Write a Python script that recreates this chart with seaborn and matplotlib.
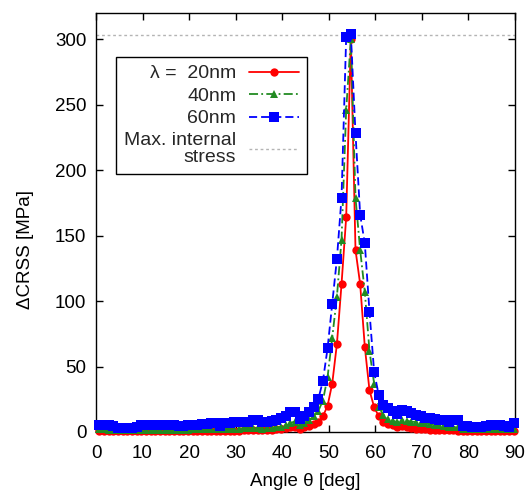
import numpy as np
import matplotlib
matplotlib.use("Agg")
import matplotlib.pyplot as plt
import seaborn as sns

# angles of the sampled points (1 deg grid, offset so that 54.74 deg is on it)
angle = np.round(np.arange(0.74, 90, 1.0), 2)

# delta CRSS [MPa]
crss_20nm = [0.8, 0.8, 0.7, 0.6, 0.5, 0.5, 0.5, 0.6, 0.7, 0.8,
             0.8, 0.8, 0.8, 0.8, 0.7, 0.7, 0.8, 0.8, 0.8, 0.8,
             0.9, 0.9, 0.9, 1.0, 1.0, 1.0, 0.8, 0.9, 1.0, 1.0,
             1.1, 1.2, 1.3, 1.5, 1.6, 1.2, 1.3, 1.5, 2.0, 2.5,
             3.0, 3.5, 4.0, 2.5, 3.5, 4.5, 6.0, 8.0, 12, 20,
             37, 67, 113, 164, 300, 139, 113, 65, 32, 19,
             12, 8.0, 6.0, 5.0, 4.0, 4.5, 3.5, 3.0, 2.5, 2.2,
             2.0, 1.8, 1.6, 1.5, 1.3, 1.2, 1.2, 1.0, 0.6, 0.6,
             0.6, 0.6, 0.6, 0.6, 0.7, 0.7, 0.6, 0.6, 0.6, 0.8]

crss_40nm = [2.0, 2.0, 1.8, 1.6, 1.5, 1.5, 1.5, 1.5, 1.7, 1.8,
             1.8, 1.8, 1.8, 1.8, 1.8, 1.8, 1.8, 1.8, 1.8, 1.9,
             2.0, 2.0, 2.0, 2.2, 2.3, 2.3, 2.0, 2.2, 2.3, 2.5,
             2.6, 2.7, 2.8, 3.0, 3.2, 2.4, 2.8, 3.0, 3.5, 4.0,
             5.0, 7.0, 8.0, 5.5, 7.0, 9.0, 12, 16, 24, 42,
             72, 103, 147, 246, 300, 179, 139, 107, 62, 37,
             19, 13, 10, 8.5, 7.5, 9.0, 8.5, 8.0, 7.5, 7.0,
             6.5, 6.0, 5.5, 5.0, 4.5, 4.0, 4.0, 3.5, 2.5, 2.2,
             2.0, 2.0, 2.0, 2.0, 2.2, 2.2, 2.0, 2.0, 2.0, 2.5]

crss_60nm = [5.0, 5.0, 5.0, 4.5, 3.3, 3.3, 3.3, 3.3, 4.0, 5.0,
             5.0, 5.0, 5.0, 5.0, 5.0, 5.0, 5.0, 4.8, 4.8, 5.0,
             5.6, 5.6, 5.8, 6.0, 7.0, 7.0, 4.8, 6.5, 6.5, 7.5,
             7.8, 8.0, 8.0, 9.5, 9.5, 7.5, 8.0, 8.5, 9.5, 10.5,
             12, 15, 15, 10, 12.5, 15, 19, 25, 39, 64,
             98, 132, 179, 302, 304, 228, 166, 144, 92, 46,
             28, 21, 18, 16, 14, 16.5, 16, 14.5, 13, 12,
             11, 10.5, 10, 9.5, 9.0, 8.0, 9.0, 9.0, 4.5, 4.3,
             4.2, 4.2, 4.2, 4.3, 5.5, 5.3, 5.0, 4.5, 4.2, 6.5]

max_stress = 303

series = [
    ("λ =  20nm", crss_20nm, "#ff0000", "o", 6.0, "-"),
    ("40nm", crss_40nm, "#228b22", "^", 6.4, (0, (5, 1.8, 1, 1.8))),
    ("60nm", crss_60nm, "#0000ff", "s", 6.5, (0, (4.5, 2.2))),
]

sns.set_theme(style="ticks")
plt.rcParams["font.family"] = ["Liberation Sans", "DejaVu Sans"]

fig = plt.figure(figsize=(5.28, 4.92), dpi=100)
ax = fig.add_axes([96 / 528, 60 / 492, 419 / 528, 419 / 492])

for name, vals, col, mk, ms, ls in series:
    sns.lineplot(x=angle, y=vals, ax=ax, color=col, marker=mk, markersize=ms,
                 markeredgewidth=0, markeredgecolor=col, lw=1.3, linestyle=ls,
                 label=name, legend=False, clip_on=False, zorder=3)

ax.axhline(max_stress, color="#b4b4b4", lw=1.0, ls=(0, (2, 2)),
           label="Max. internal\nstress", zorder=1)

ax.set_xlim(0, 90)
ax.set_ylim(0, 320)
ax.set_xticks(range(0, 91, 10))
ax.set_yticks(range(0, 301, 50))
ax.tick_params(direction="in", top=True, right=True, length=5, width=1,
               color="black", labelcolor="black", labelsize=13.5)
ax.tick_params(axis="x", pad=9)
ax.tick_params(axis="y", pad=7)
for sp in ax.spines.values():
    sp.set_color("black")
    sp.set_linewidth(1.0)

ax.set_xlabel("Angle θ [deg]", fontsize=13.5, color="black")
ax.set_ylabel("ΔCRSS [MPa]", fontsize=13.5, color="black")
ax.xaxis.set_label_coords(0.5, -0.099)
ax.yaxis.set_label_coords(-0.148, 0.435)

# markerfirst=False right-aligns the entries, so labels end next to the samples
leg = ax.legend(loc="upper left", bbox_to_anchor=(0.048, 0.895), markerfirst=False,
                frameon=True, fancybox=False, edgecolor="black", framealpha=1,
                fontsize=14, handlelength=2.6, handletextpad=0.65, borderpad=0.4,
                labelspacing=0.25, borderaxespad=0)
leg.get_frame().set_linewidth(1.0)
for t in leg.get_texts():
    t.set_multialignment("right")
    t.set_linespacing(1.0)

fig.savefig("out.png", dpi=100)
